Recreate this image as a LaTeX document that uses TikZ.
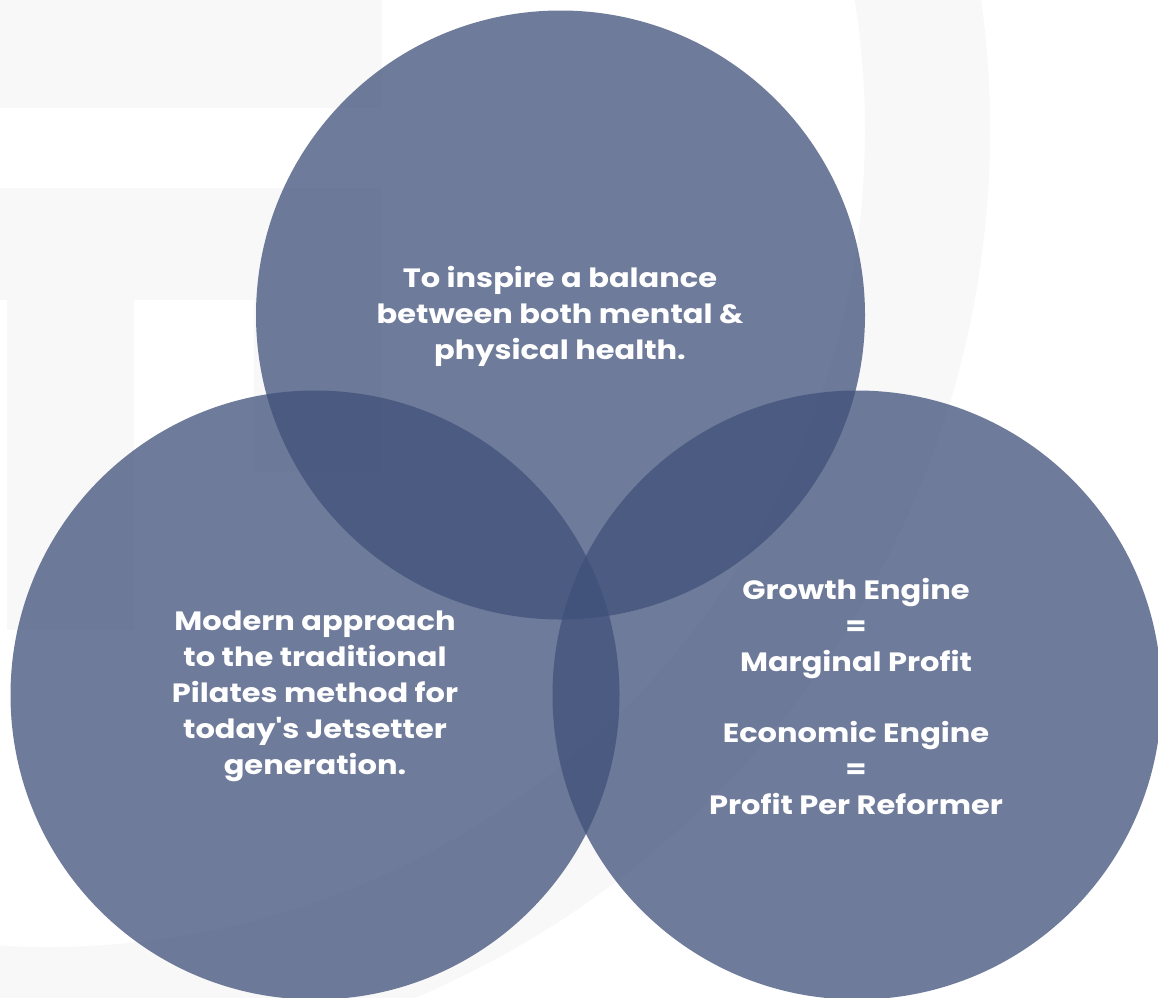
\documentclass[tikz,border=0pt]{standalone}
\usepackage{fontspec}
\setmainfont{Poppins}[Ligatures=TeXOff, FakeStretch=1.15]
\definecolor{vblue}{RGB}{64,81,122}
\definecolor{bggray}{RGB}{248,248,248}
\tikzset{
  venn/.style={circle, draw=none, fill=vblue, fill opacity=0.755, inner sep=0pt, minimum size=609pt},
  label/.style={text=white, font=\fontsize{26.5}{36}\selectfont\bfseries, align=center, inner sep=0pt},
  bgshape/.style={fill=bggray, draw=none}
}
\begin{document}
\begin{tikzpicture}[x=1pt,y=-1pt]
\useasboundingbox (0,0) rectangle (1158,997);
\fill[white] (0,0) rectangle (1158,997);
% background logo shapes
\begin{scope}
\clip (0,0) rectangle (1158,997);
\fill[bggray, even odd rule] (48,130) circle[radius=942] (48,130) circle[radius=817];
\fill[bgshape] (0,0) rectangle (382,108);
\fill[bgshape] (0,188) rectangle (382,300);
\fill[bgshape] (7,300) rectangle (134,630);
\fill[bgshape] (254,300) rectangle (382,472);
\end{scope}
% circles
\node[venn] (top) at (560.5,315) {};
\node[venn] (left) at (315,695) {};
\node[venn] (right) at (857,695) {};
% texts
\node[label] (toptext) at (560,316) {To inspire a balance\\between both mental \&\\physical health.};
\node[label] (lefttext) at (315,696) {Modern approach\\to the traditional\\Pilates method for\\today's Jetsetter\\generation.};
\node[label] (righttext) at (856,696) {Growth Engine\\=\\Marginal Profit\\[35pt]Economic Engine\\=\\Profit Per Reformer};
\end{tikzpicture}
\end{document}
